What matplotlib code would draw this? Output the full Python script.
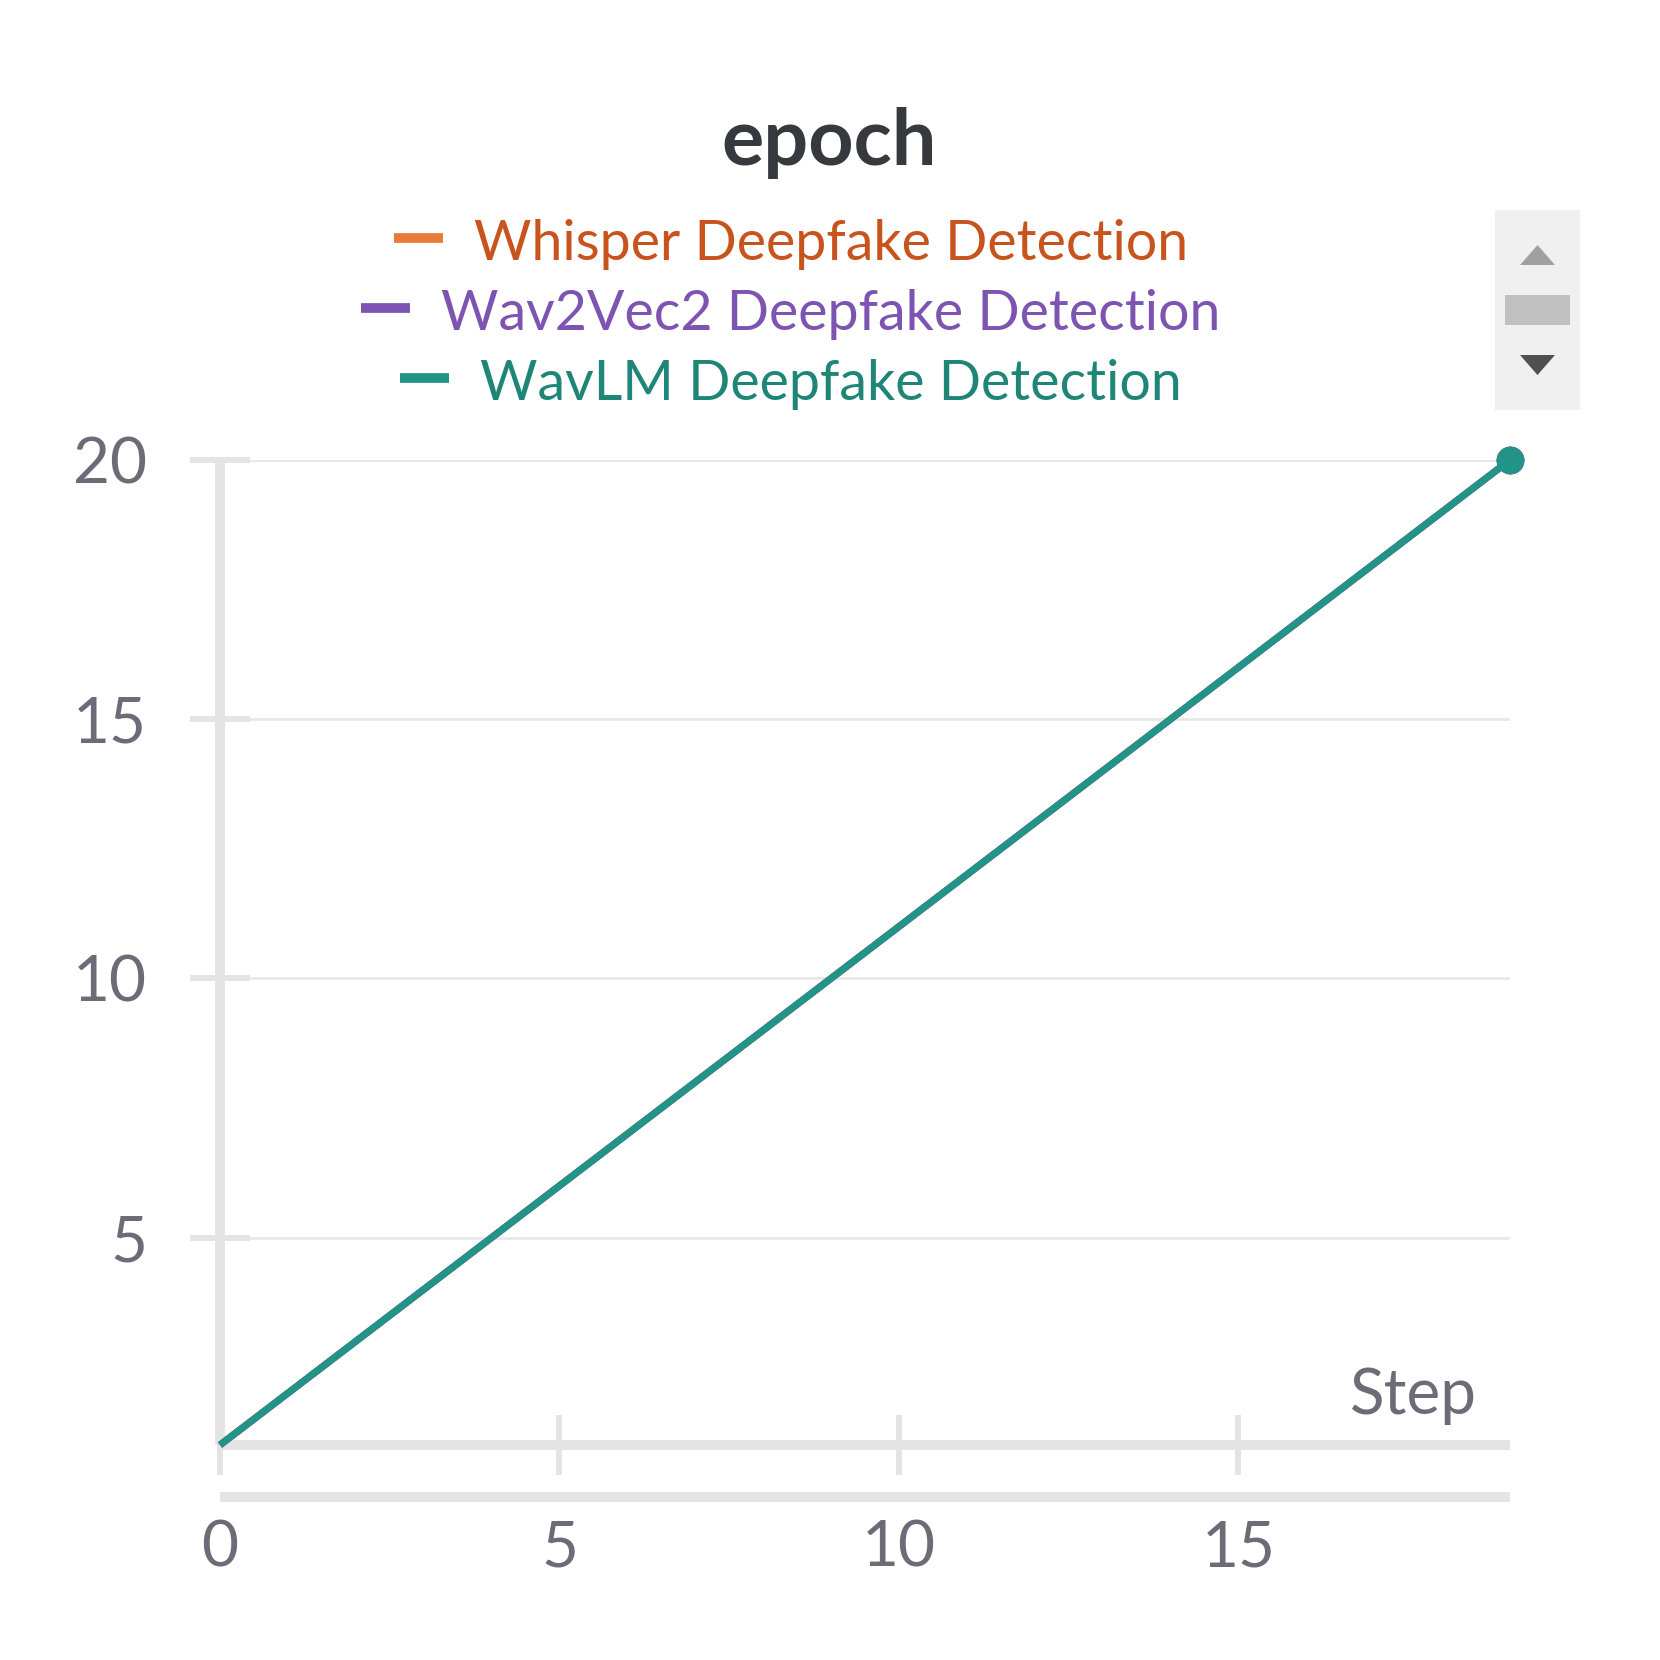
import numpy as np
import matplotlib
matplotlib.use("Agg")
import matplotlib.pyplot as plt
from matplotlib.lines import Line2D
from matplotlib.patches import Rectangle, Polygon

# data
steps = list(range(20))
whisper_epoch = [1, 2, 3, 4, 5, 6, 7, 8, 9, 10, 11, 12, 13, 14, 15, 16, 17, 18, 19, 20]
wav2vec2_epoch = [1, 2, 3, 4, 5, 6, 7, 8, 9, 10, 11, 12, 13, 14, 15, 16, 17, 18, 19, 20]
wavlm_epoch = [1, 2, 3, 4, 5, 6, 7, 8, 9, 10, 11, 12, 13, 14, 15, 16, 17, 18, 19, 20]
run_names = ["Whisper Deepfake Detection", "Wav2Vec2 Deepfake Detection", "WavLM Deepfake Detection"]
line_colors = ["#e87b38", "#7d54b2", "#229487"]
text_colors = ["#c8531c", "#7d54b2", "#1e8577"]
y_ticks = [5, 10, 15, 20]
x_ticks = [0, 5, 10, 15]

W = H = 1660
FONT = "Lato"
AXCOL = "#e4e4e7"
LABCOL = "#6b6c78"

def fx(px):
    return px / W

def fy(py):
    return 1 - py / H

fig = plt.figure(figsize=(16.6, 16.6), dpi=100)
ax = fig.add_axes([fx(220), fy(1445), fx(1510 - 220), (1445 - 460) / H])

for ys, c in zip([whisper_epoch, wav2vec2_epoch, wavlm_epoch], line_colors):
    ax.plot(steps, ys, color=c, lw=5, solid_capstyle="butt", zorder=3, clip_on=False,
            marker="o", markevery=[-1], markersize=20, markeredgewidth=0)

ax.set_xlim(0, 19)
ax.set_ylim(1, 20)
ax.set_xticks(x_ticks)
ax.set_yticks(y_ticks)
ax.yaxis.grid(True, color="#e8e8e8", lw=2)
ax.set_axisbelow(True)

for s in ["top", "right"]:
    ax.spines[s].set_visible(False)
for s in ["left", "bottom"]:
    ax.spines[s].set_color(AXCOL)
    ax.spines[s].set_linewidth(7.2)
    ax.spines[s].set_capstyle("butt")
ax.tick_params(axis="both", direction="inout", length=43, width=4.3, color=AXCOL,
               labelcolor=LABCOL, labelsize=46)
ax.tick_params(axis="y", pad=31)
ax.tick_params(axis="x", pad=32)
for lab in ax.get_xticklabels() + ax.get_yticklabels():
    lab.set_family(FONT)

# second bar under the x axis
fig.add_artist(Line2D([fx(220), fx(1510)], [fy(1497), fy(1497)], color=AXCOL, lw=7.2,
                      solid_capstyle="butt"))

fig.text(fx(1477), fy(1414), "Step", ha="right", va="baseline", fontsize=46,
         color=LABCOL, family=FONT)
fig.text(fx(829), fy(165), "epoch", ha="center", va="baseline", fontsize=57,
         fontweight="bold", color="#36393d", family=FONT)

# legend rows, each centred as handle + text
renderer = fig.canvas.get_renderer()
baselines = [260, 330, 400]
handle_w, gap, center = 49, 31, 791
for name, lc, tc, base in zip(run_names, line_colors, text_colors, baselines):
    t = fig.text(0, fy(base), name, ha="left", va="baseline", fontsize=40,
                 color=tc, family=FONT)
    tw = t.get_window_extent(renderer).width
    start = center - (handle_w + gap + tw) / 2
    t.set_x(fx(start + handle_w + gap))
    hy = base - 22
    fig.add_artist(Line2D([fx(start), fx(start + handle_w)], [fy(hy), fy(hy)],
                          color=lc, lw=7, solid_capstyle="butt"))

# scroll widget for the legend
fig.add_artist(Rectangle((fx(1495), fy(410)), fx(85), 200 / H, transform=fig.transFigure,
                         facecolor="#f0f0f0", edgecolor="none"))
fig.add_artist(Polygon([[fx(1520), fy(265)], [fx(1555), fy(265)], [fx(1537.5), fy(245)]],
                       closed=True, transform=fig.transFigure, facecolor="#a0a0a0", edgecolor="none"))
fig.add_artist(Rectangle((fx(1505), fy(325)), fx(65), 30 / H, transform=fig.transFigure,
                         facecolor="#c0c0c0", edgecolor="none"))
fig.add_artist(Polygon([[fx(1520), fy(355)], [fx(1555), fy(355)], [fx(1537.5), fy(375)]],
                       closed=True, transform=fig.transFigure, facecolor="#505050", edgecolor="none"))

fig.savefig("out.png", dpi=100, facecolor="white")
